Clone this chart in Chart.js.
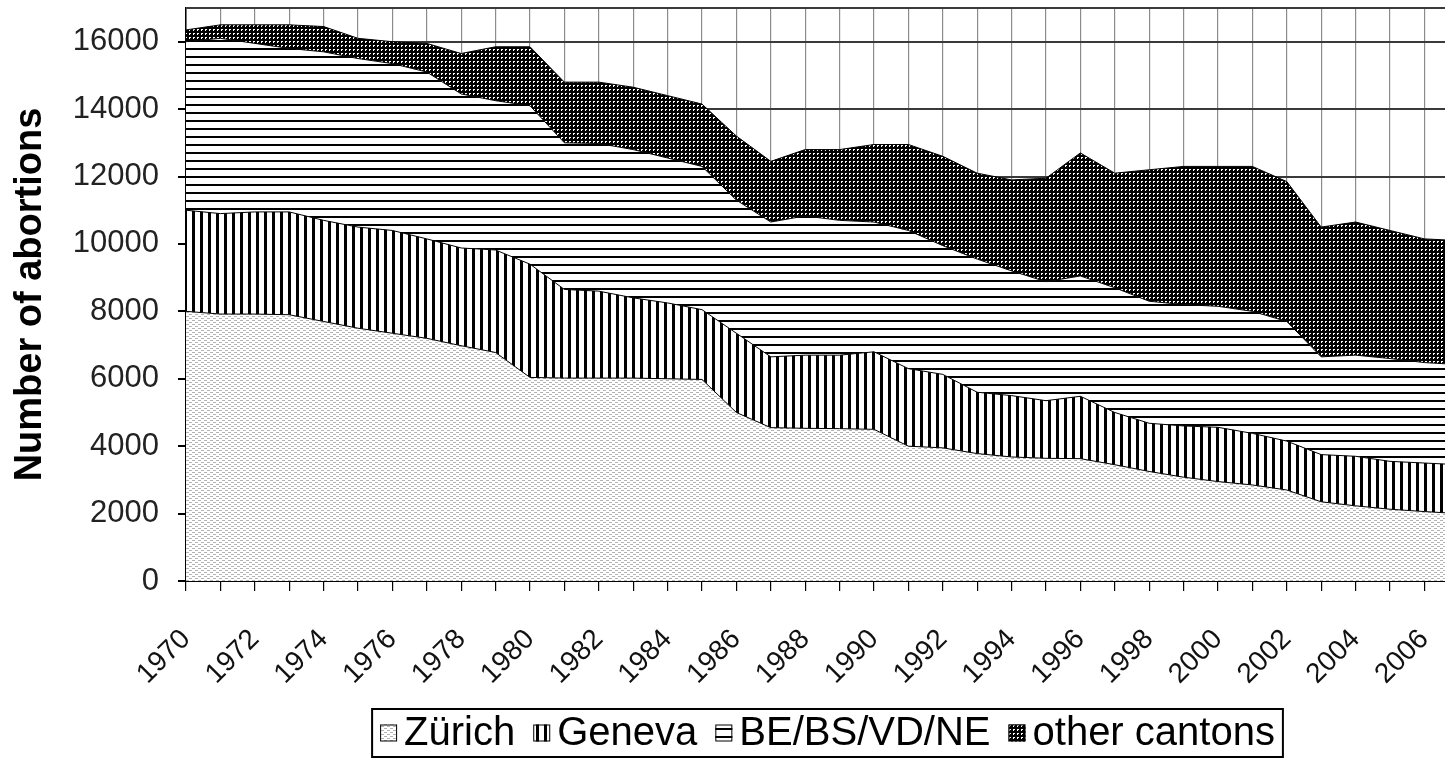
<!DOCTYPE html>
<html>
<head>
<meta charset="utf-8">
<script src="https://cdn.jsdelivr.net/npm/chart.js@4.4.1/dist/chart.umd.min.js"></script>
<style>
  html, body { margin: 0; padding: 0; background: #fff; }
  canvas { display: block; }
</style>
</head>
<body>
<canvas id="chart" width="1445" height="762"></canvas>
<script>
const years = [1970, 1971, 1972, 1973, 1974, 1975, 1976, 1977, 1978, 1979,
               1980, 1981, 1982, 1983, 1984, 1985, 1986, 1987, 1988, 1989,
               1990, 1991, 1992, 1993, 1994, 1995, 1996, 1997, 1998, 1999,
               2000, 2001, 2002, 2003, 2004, 2005, 2006, 2007];

const zurich = [8000, 7920, 7920, 7900, 7700, 7500, 7350, 7200, 6980, 6780,
                6040, 6020, 6020, 6020, 6000, 5980, 5000, 4550, 4530, 4520,
                4500, 4000, 3950, 3780, 3680, 3640, 3630, 3450, 3250, 3080,
                2950, 2850, 2700, 2350, 2230, 2130, 2060, 2000];

const geneva = [3000, 2980, 3030, 3050, 3000, 3000, 3050, 2950, 2900, 3040,
                3360, 2630, 2580, 2380, 2250, 2070, 2350, 2100, 2170, 2180,
                2300, 2300, 2180, 1820, 1820, 1710, 1850, 1550, 1430, 1520,
                1610, 1530, 1450, 1400, 1470, 1420, 1440, 1450];

const beBsVdNe = [5000, 5200, 5000, 4850, 5000, 5000, 4950, 4950, 4570, 4430,
                  4700, 4350, 4380, 4400, 4300, 4250, 3950, 4000, 4130, 4000,
                  3850, 4100, 3820, 3950, 3700, 3530, 3570, 3700, 3620, 3600,
                  3590, 3620, 3550, 2900, 3000, 3050, 2980, 2970];

const otherCantons = [350, 400, 550, 700, 750, 600, 650, 850, 1200, 1600,
                      1750, 1800, 1820, 1850, 1850, 1850, 1900, 1800, 1970, 2100,
                      2300, 2550, 2650, 2550, 2700, 3070, 3650, 3400, 3900, 4100,
                      4150, 4300, 4150, 3850, 3950, 3800, 3670, 3680];

const seriesNames = ['Zürich', 'Geneva', 'BE/BS/VD/NE', 'other cantons'];
const yTickValues = [0, 2000, 4000, 6000, 8000, 10000, 12000, 14000, 16000];
const yMax = 17000;

const FONT = '"Liberation Sans", Arial, sans-serif';

// small tiles used as fill patterns (like the old Excel hatch fills)
function makePattern(w, h, bg, fg, rects) {
  const c = document.createElement('canvas');
  c.width = w;
  c.height = h;
  const g = c.getContext('2d');
  g.fillStyle = bg;
  g.fillRect(0, 0, w, h);
  g.fillStyle = fg;
  rects.forEach(r => g.fillRect(r[0], r[1], r[2], r[3]));
  return g.createPattern(c, 'repeat');
}

const ctx = document.getElementById('chart').getContext('2d');
const patterns = [
  makePattern(6, 4, '#ffffff', '#b4b4b4', [[0, 0, 3, 1], [3, 2, 3, 1]]),
  makePattern(8, 1, '#ffffff', '#000000', [[0, 0, 3, 1]]),
  makePattern(1, 8, '#ffffff', '#000000', [[0, 0, 1, 2]]),
  makePattern(4, 4, '#000000', '#ffffff', [[1, 1, 2, 1], [1, 2, 1, 1]])
];
const seriesValues = [zurich, geneva, beBsVdNe, otherCantons];

const datasets = seriesNames.map((name, k) => ({
  label: name,
  data: years.map((yr, i) => ({ x: yr, y: seriesValues[k][i] })),
  backgroundColor: patterns[k],
  borderColor: '#000',
  borderWidth: 1,
  fill: k === 0 ? 'origin' : '-1',
  pointRadius: 0,
  tension: 0
}));

// legend drawn in a framed box under the axis
const framedLegend = {
  id: 'framedLegend',
  afterDraw(chart) {
    const c = chart.ctx;
    const area = chart.chartArea;
    c.save();
    c.font = '40px ' + FONT;
    const box = 17, gap = 7, itemGap = 18, pad = 8;
    const items = chart.data.datasets.map(ds => ({
      label: ds.label, fill: ds.backgroundColor, w: c.measureText(ds.label).width
    }));
    const total = items.reduce((s, it) => s + box + gap + it.w, 0) + itemGap * (items.length - 1) + pad * 2;
    const cx = (area.left + area.right) / 2 + 12;
    const top = 709, h = 48;
    let x = cx - total / 2;
    c.strokeStyle = '#000';
    c.lineWidth = 2;
    c.strokeRect(x, top, total, h);
    x += pad;
    const mid = top + h / 2;
    items.forEach(it => {
      c.fillStyle = it.fill;
      c.fillRect(x, mid - box / 2, box, box);
      c.lineWidth = 1;
      c.strokeRect(x + 0.5, mid - box / 2 + 0.5, box - 1, box - 1);
      x += box + gap;
      c.fillStyle = '#000';
      c.textAlign = 'left';
      c.textBaseline = 'middle';
      c.fillText(it.label, x, mid + 1);
      x += it.w + itemGap;
    });
    c.restore();
  }
};

new Chart(ctx, {
  type: 'line',
  data: { datasets },
  options: {
    responsive: false,
    animation: false,
    layout: { padding: { top: 8, right: 0, bottom: 72, left: 0 } },
    plugins: {
      legend: { display: false },
      tooltip: { enabled: false }
    },
    scales: {
      x: {
        type: 'linear',
        min: 1970,
        max: 2006.6,
        afterBuildTicks: s => { s.ticks = years.filter(v => v <= s.max).map(v => ({ value: v })); },
        afterFit: s => { s.height = 109; s.paddingLeft = 0; s.paddingRight = 0; },
        ticks: {
          autoSkip: false,
          minRotation: 45,
          maxRotation: 45,
          padding: 32,
          color: '#111',
          font: { family: FONT, size: 28 },
          callback: v => (v % 2 === 0 ? String(v) : '')
        },
        grid: { color: '#8c8c8c', lineWidth: 1.2, tickColor: '#000', tickLength: 10 },
        border: { color: '#000', width: 2 }
      },
      y: {
        stacked: true,
        min: 0,
        max: yMax,
        afterBuildTicks: s => { s.ticks = yTickValues.concat([yMax]).map(v => ({ value: v })); },
        afterFit: s => { s.width = 186; s.paddingTop = 0; s.paddingBottom = 0; },
        ticks: {
          padding: 19,
          color: '#222',
          font: { family: FONT, size: 31 },
          callback: v => (v > 16000 ? '' : String(v))
        },
        grid: {
          color: '#3a3a3a',
          lineWidth: 2,
          tickLength: 8,
          tickColor: c => (c.tick && c.tick.value > 16000 ? 'rgba(0,0,0,0)' : '#000')
        },
        border: { color: '#000', width: 1.5 },
        title: {
          display: true,
          text: 'Number of abortions',
          color: '#000',
          font: { family: FONT, size: 38, weight: 'bold' },
          padding: { top: 8, bottom: 0 }
        }
      }
    }
  },
  plugins: [framedLegend]
});
</script>
</body>
</html>
